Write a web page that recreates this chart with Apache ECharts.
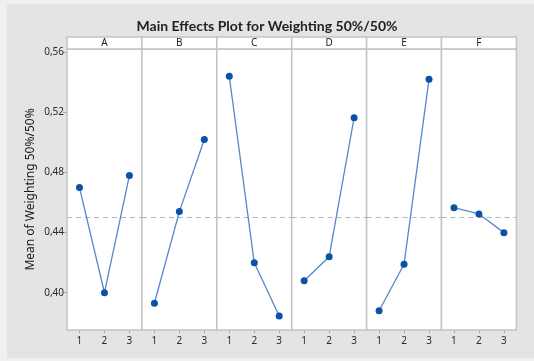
<!DOCTYPE html>
<html>
<head>
<meta charset="utf-8">
<script src="https://cdn.jsdelivr.net/npm/echarts@6/dist/echarts.min.js"></script>
<style>html,body{margin:0;padding:0;background:#f0f0f0;}#c{width:534px;height:361px;}</style>
</head>
<body>
<div id="c"></div>
<script>
var factors = ['A', 'B', 'C', 'D', 'E', 'F'];
var levels = [1, 2, 3];
var meanA = [0.470, 0.400, 0.478];
var meanB = [0.393, 0.454, 0.502];
var meanC = [0.544, 0.420, 0.3845];
var meanD = [0.408, 0.424, 0.5165];
var meanE = [0.388, 0.419, 0.542];
var meanF = [0.4566, 0.4524, 0.440];
var grandMean = 0.449;
var yTicks = [0.40, 0.44, 0.48, 0.52, 0.56];
var titleText = 'Main Effects Plot for Weighting 50%/50%';
var yName = 'Mean of Weighting 50%/50%';

var allMeans = [meanA, meanB, meanC, meanD, meanE, meanF];
var chart = echarts.init(document.getElementById('c'), null, {renderer: 'canvas'});

var panelLeft = 67, panelW = 74.9, panelTop = 49, panelH = 281, stripTop = 37;
var grids = [], xAxes = [], yAxes = [], series = [], graphics = [];
var border = '#c4c4c4';

graphics.push({type: 'rect', z: -10, shape: {x: 7, y: 4, width: 527, height: 354}, style: {fill: '#e4e4e4'}});

factors.forEach(function (f, i) {
  var left = panelLeft + i * panelW;
  grids.push({left: left, top: panelTop, width: panelW, height: panelH, show: true,
    backgroundColor: '#ffffff', borderColor: border, borderWidth: 1.5});
  xAxes.push({type: 'value', gridIndex: i, min: 0.5, max: 3.5,
    axisLine: {show: false}, splitLine: {show: false},
    axisTick: {show: true, length: 3, lineStyle: {color: '#aaaaaa'}, customValues: levels},
    axisLabel: {customValues: levels, fontSize: 10, color: '#2a2a2a', margin: 6, fontFamily: 'Noto Sans'}});
  yAxes.push({type: 'value', gridIndex: i, min: 0.3752, max: 0.5622,
    axisLine: {show: false}, splitLine: {show: false},
    axisTick: {show: i === 0, length: 4, lineStyle: {color: '#aaaaaa'}, customValues: yTicks},
    axisLabel: {show: i === 0, customValues: yTicks, fontSize: 10, color: '#2a2a2a', margin: 3,
      fontFamily: 'Noto Sans',
      formatter: function (v) { return v.toFixed(2).replace('.', ','); }},
    name: i === 0 ? yName : '', nameLocation: 'middle', nameGap: 30,
    nameTextStyle: {fontSize: 12, color: '#1a1a1a', fontFamily: 'Noto Sans'}});
  series.push({type: 'line', xAxisIndex: i, yAxisIndex: i,
    data: levels.map(function (l, k) { return [l, allMeans[i][k]]; }),
    symbol: 'circle', symbolSize: 7, showSymbol: true,
    itemStyle: {color: '#0a52a5'}, lineStyle: {color: '#5587c9', width: 1.3},
    z: 5,
    markLine: {silent: true, symbol: 'none', label: {show: false},
      lineStyle: {color: '#b5b5b5', type: [5, 4], width: 1.2},
      data: [{yAxis: grandMean}], z: 2}});
  graphics.push({type: 'rect', shape: {x: left, y: stripTop, width: panelW, height: panelTop - stripTop},
    style: {fill: '#ffffff', stroke: border, lineWidth: 1.5}});
  graphics.push({type: 'text', x: left + panelW / 2, y: stripTop + (panelTop - stripTop) / 2 + 0.5,
    style: {text: f, fill: '#222', fontSize: 10, fontFamily: 'Noto Sans', align: 'center', verticalAlign: 'middle'}});
});

chart.setOption({
  backgroundColor: '#f0f0f0',
  animation: false,
  title: {text: titleText, left: 'center', top: 14,
    textStyle: {fontSize: 14, fontWeight: 'bold', color: '#222', fontFamily: 'Lato'}},
  grid: grids, xAxis: xAxes, yAxis: yAxes, series: series,
  graphic: graphics
});
</script>
</body>
</html>
